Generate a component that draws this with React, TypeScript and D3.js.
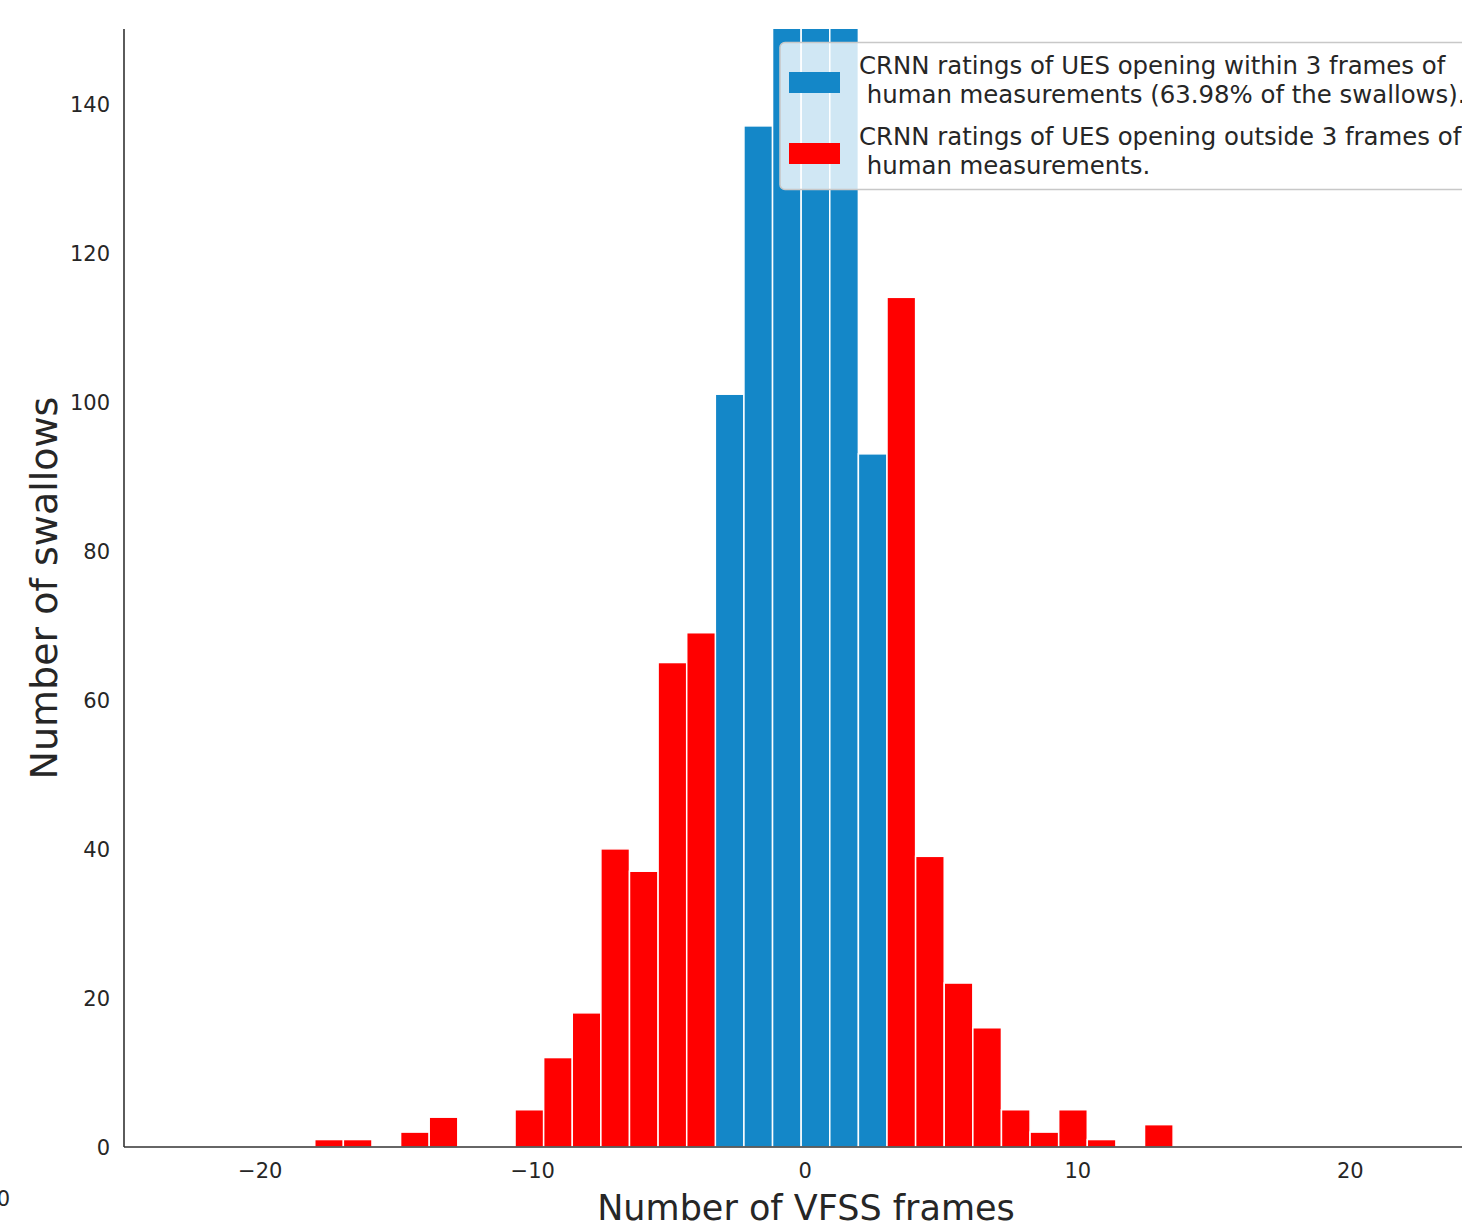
import React, { useEffect, useRef } from 'react';
import * as d3 from 'd3';

// histogram of frame differences (CRNN vs human), bins start at -18, width 1.05
const binStart = -18;
const binWidth = 1.05;
const blueCounts = [0, 0, 0, 0, 0, 0, 0, 0, 0, 0, 0, 0, 0, 0, 101, 137, 160, 170, 158, 93, 0, 0, 0, 0, 0, 0, 0, 0, 0, 0];
const redCounts = [1, 1, 0, 2, 4, 0, 0, 5, 12, 18, 40, 37, 65, 69, 0, 0, 0, 0, 0, 0, 114, 39, 22, 16, 5, 2, 5, 1, 0, 3];
const xTicks = [-20, -10, 0, 10, 20];
const yTicks = [0, 20, 40, 60, 80, 100, 120, 140];
const legendBlue = ['CRNN ratings of UES opening within 3 frames of', ' human measurements (63.98% of the swallows).'];
const legendRed = ['CRNN ratings of UES opening outside 3 frames of', ' human measurements.'];

const BLUE = '#1487c8';
const RED = '#ff0000';
const INK = '#262626';

export default function App() {
  const svgRef = useRef<SVGSVGElement>(null);

  useEffect(() => {
    const width = 1462;
    const height = 1228;
    const left = 124;
    const top = 29;
    const bottom = 1147;

    const svg = d3.select(svgRef.current);
    svg.selectAll('*').remove();
    svg.attr('width', width).attr('height', height);

    const x = d3.scaleLinear().domain([-25, 25]).range([left, left + 50 * 27.25]);
    const y = d3.scaleLinear().domain([0, 150]).range([bottom, top]);

    svg
      .append('defs')
      .append('clipPath')
      .attr('id', 'plot-clip')
      .append('rect')
      .attr('x', left)
      .attr('y', top)
      .attr('width', width - left)
      .attr('height', bottom - top);

    const bins = blueCounts.map((b, i) => ({
      x0: binStart + i * binWidth,
      x1: binStart + (i + 1) * binWidth,
      blue: b,
      red: redCounts[i],
    }));

    const bars = svg.append('g').attr('clip-path', 'url(#plot-clip)');

    // blue: within 3 frames
    bars
      .selectAll('rect.blue')
      .data(bins.filter((d) => d.blue > 0))
      .join('rect')
      .attr('class', 'blue')
      .attr('x', (d) => x(d.x0))
      .attr('width', (d) => x(d.x1) - x(d.x0))
      .attr('y', (d) => y(d.blue))
      .attr('height', (d) => y(0) - y(d.blue))
      .attr('fill', BLUE)
      .attr('stroke', '#ffffff')
      .attr('stroke-width', 1.5);

    // red: outside 3 frames
    bars
      .selectAll('rect.red')
      .data(bins.filter((d) => d.red > 0))
      .join('rect')
      .attr('class', 'red')
      .attr('x', (d) => x(d.x0))
      .attr('width', (d) => x(d.x1) - x(d.x0))
      .attr('y', (d) => y(d.red))
      .attr('height', (d) => y(0) - y(d.red))
      .attr('fill', RED)
      .attr('stroke', '#ffffff')
      .attr('stroke-width', 1.5);

    // spines
    svg
      .append('line')
      .attr('x1', left)
      .attr('x2', left)
      .attr('y1', top)
      .attr('y2', bottom)
      .attr('stroke', '#333333')
      .attr('stroke-width', 1.6);
    svg
      .append('line')
      .attr('x1', left)
      .attr('x2', width)
      .attr('y1', bottom)
      .attr('y2', bottom)
      .attr('stroke', '#333333')
      .attr('stroke-width', 1.6);

    const font = 'DejaVu Sans, sans-serif';

    // tick labels
    svg
      .append('g')
      .selectAll('text')
      .data(yTicks)
      .join('text')
      .attr('x', 110)
      .attr('y', (d) => y(d))
      .attr('dy', '0.38em')
      .attr('text-anchor', 'end')
      .attr('font-family', font)
      .attr('font-size', 21)
      .attr('fill', INK)
      .text((d) => d);

    svg
      .append('g')
      .selectAll('text')
      .data(xTicks)
      .join('text')
      .attr('x', (d) => x(d))
      .attr('y', 1178)
      .attr('text-anchor', 'middle')
      .attr('font-family', font)
      .attr('font-size', 21)
      .attr('fill', INK)
      .text((d) => (d < 0 ? '\u2212' + Math.abs(d) : String(d)));

    // stray label from the neighbouring panel, cut at the edge as in the source
    svg
      .append('text')
      .attr('x', 10)
      .attr('y', 1206)
      .attr('text-anchor', 'end')
      .attr('font-family', font)
      .attr('font-size', 21)
      .attr('fill', INK)
      .text('0');

    // axis titles
    svg
      .append('text')
      .attr('x', 806)
      .attr('y', 1220)
      .attr('text-anchor', 'middle')
      .attr('font-family', font)
      .attr('font-size', 35)
      .attr('fill', INK)
      .text('Number of VFSS frames');

    svg
      .append('text')
      .attr('transform', 'translate(57,588) rotate(-90)')
      .attr('text-anchor', 'middle')
      .attr('font-family', font)
      .attr('font-size', 38)
      .attr('fill', INK)
      .text('Number of swallows');

    // legend
    const lg = svg.append('g');
    lg.append('rect')
      .attr('x', 780)
      .attr('y', 42.5)
      .attr('width', 760)
      .attr('height', 147)
      .attr('rx', 5)
      .attr('fill', '#ffffff')
      .attr('fill-opacity', 0.8)
      .attr('stroke', '#c8c8c8')
      .attr('stroke-width', 1.6);

    const entries = [
      { color: BLUE, lines: legendBlue, y0: 74 },
      { color: RED, lines: legendRed, y0: 145 },
    ];
    entries.forEach((e) => {
      lg.append('rect')
        .attr('x', 789)
        .attr('y', e.y0 - 2)
        .attr('width', 51)
        .attr('height', 21)
        .attr('fill', e.color);
      lg.append('g')
        .selectAll('text')
        .data(e.lines)
        .join('text')
        .attr('x', 859)
        .attr('y', (d, i) => e.y0 + i * 29)
        .attr('font-family', font)
        .attr('font-size', 24.4)
        .attr('fill', INK)
        .style('white-space', 'pre')
        .text((d) => d);
    });
  }, []);

  return (
    <div style={{ position: 'absolute', left: 0, top: 0, background: '#ffffff' }}>
      <svg ref={svgRef} style={{ display: 'block' }}></svg>
    </div>
  );
}
